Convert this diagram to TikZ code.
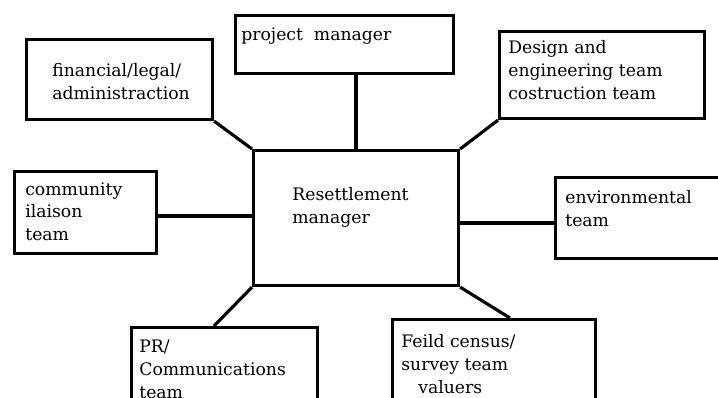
\documentclass[tikz,border=0pt]{standalone}
\usepackage{fontspec}
\setmainfont{DejaVu Serif}
\usetikzlibrary{positioning}
\tikzset{
	box/.style={draw, line width=1.8pt, inner sep=0pt, anchor=north west},
	boxtext/.style={anchor=north west, align=left, inner sep=0pt,
			font=\fontsize{9.8}{13}\selectfont},
	link/.style={line width=1.8pt}
}

\begin{document}
\begin{tikzpicture}[x=0.02cm,y=-0.02cm]

			\useasboundingbox (0,0) rectangle (718,397);
			\clip (0,0) rectangle (718,397);

			% Draw the boxes
			\node[box, minimum width=4.1cm, minimum height=2.7cm] (res) at (252,149) {};
			\node[box, minimum width=3.72cm, minimum height=1.6cm] (fin) at (25,38) {};
			\node[box, minimum width=4.36cm, minimum height=1.16cm] (pm) at (234,14) {};
			\node[box, minimum width=4.1cm, minimum height=1.74cm] (des) at (498,30) {};
			\node[box, minimum width=2.84cm, minimum height=1.64cm] (com) at (13,170) {};
			\node[box, minimum width=4cm, minimum height=1.62cm] (env) at (554,176) {};
			\node[box, minimum width=3.72cm, minimum height=2cm] (pr) at (130,326) {};
			\node[box, minimum width=4.06cm, minimum height=2cm] (fld) at (391,318) {};

			% Write the texts
			\node[boxtext] (restext) at (292,187) {Resettlement\\manager};
			\node[boxtext] (fintext) at (52,63) {financial/legal/\\administraction};
			\node[boxtext] (pmtext) at (241,27) {project~ manager};
			\node[boxtext] (destext) at (508,40) {Design and\\engineering team\\costruction team};
			\node[boxtext] (comtext) at (25,182) {community\\ilaison\\team};
			\node[boxtext] (envtext) at (565,190) {environmental\\team};
			\node[boxtext] (prtext) at (139,340) {PR/\\Communications\\team};
			\node[boxtext] (fldtext) at (401,334) {Feild census/\\survey team\\\hspace*{0.34cm}valuers};

			% Draw the links
			\draw[link] (fin.south east) -- (res.north west);
			\draw[link] (res.north) -- (res.north |- pm.south);
			\draw[link] (des.south west) -- (res.north east);
			\draw[link] (com.east |- 0,216) -- (res.west |- 0,216);
			\draw[link] (res.east |- 0,223) -- (env.west |- 0,223);
			\draw[link] (res.south west) -- (pr.north -| 214,0);
			\draw[link] (res.south east) -- (fld.north -| 510,0);
		\end{tikzpicture}
\end{document}
